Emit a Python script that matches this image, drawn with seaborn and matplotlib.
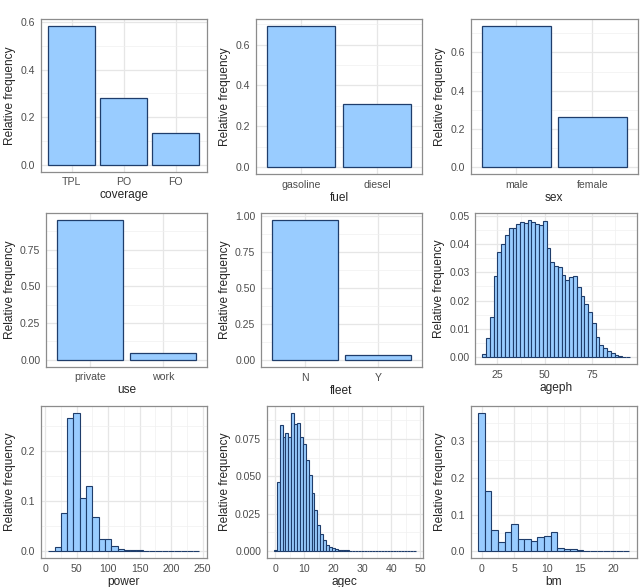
import numpy as np
import pandas as pd
import matplotlib
matplotlib.use("Agg")
import matplotlib.pyplot as plt
import seaborn as sns
from matplotlib.ticker import MultipleLocator, FormatStrFormatter, FixedLocator

# ---- donnees (frequences relatives) ----
coverage_cats = ["TPL", "PO", "FO"]
coverage_freq = [0.582, 0.281, 0.135]

fuel_cats = ["gasoline", "diesel"]
fuel_freq = [0.690, 0.308]

sex_cats = ["male", "female"]
sex_freq = [0.737, 0.264]

use_cats = ["private", "work"]
use_freq = [0.951, 0.048]

fleet_cats = ["N", "Y"]
fleet_freq = [0.967, 0.032]

ageph_centers = [18, 20, 22, 24, 26, 28, 30, 32, 34, 36, 38, 40, 42, 44, 46, 48, 50,
                 52, 54, 56, 58, 60, 62, 64, 66, 68, 70, 72, 74, 76, 78, 80, 82, 84,
                 86, 88, 90, 92, 94]
ageph_freq = [0.0010, 0.0069, 0.0143, 0.0288, 0.0372, 0.0398, 0.0430, 0.0457, 0.0455,
              0.0470, 0.0476, 0.0474, 0.0484, 0.0476, 0.0470, 0.0466, 0.0481, 0.0386,
              0.0335, 0.0322, 0.0317, 0.0290, 0.0273, 0.0283, 0.0288, 0.0247, 0.0215,
              0.0188, 0.0160, 0.0119, 0.0070, 0.0043, 0.0033, 0.0021, 0.0015, 0.0008,
              0.0005, 0.0002, 0.0001]

power_centers = [10, 20, 30, 40, 50, 60, 70, 80, 90, 100, 110, 120, 130, 140, 150, 160,
                 170, 180, 190, 200, 210, 220, 230, 240]
power_freq = [0.0005, 0.008, 0.076, 0.266, 0.277, 0.106, 0.131, 0.069, 0.025, 0.024,
              0.010, 0.0033, 0.002, 0.0027, 0.0013, 0.0007, 0.0004, 0.0003, 0.0002,
              0.0002, 0.0001, 0.0001, 0.0001, 0.0001]

agec_centers = [0, 1, 2, 3, 4, 5, 6, 7, 8, 9, 10, 11, 12, 13, 14, 15, 16, 17, 18, 19, 20,
                21, 22, 23, 24, 25, 26, 27, 28, 29, 30, 31, 32, 33, 34, 35, 36, 37, 38,
                39, 40, 41, 42, 43, 44, 45, 46, 47, 48]
agec_freq = [0.0010, 0.0460, 0.0843, 0.0761, 0.0786, 0.0759, 0.0923, 0.0850, 0.0854,
             0.0765, 0.0717, 0.0608, 0.0510, 0.0388, 0.0277, 0.0177, 0.0115, 0.0073,
             0.0042, 0.0029, 0.0020, 0.0013, 0.0009, 0.0006, 0.0005, 0.0004, 0.0003,
             0.0003, 0.0002, 0.0002, 0.0002, 0.0001, 0.0001, 0.0001, 0.0001, 0.0001,
             0.0001, 0.0001, 0.0001, 0.0001, 0.0001, 0.0001, 0.0001, 0.0001, 0.0001,
             0.0001, 0.0001, 0.0001, 0.0001]

bm_centers = [0, 1, 2, 3, 4, 5, 6, 7, 8, 9, 10, 11, 12, 13, 14, 15, 16, 17, 18, 19, 20,
              21, 22]
bm_freq = [0.378, 0.165, 0.059, 0.024, 0.052, 0.073, 0.033, 0.033, 0.028, 0.038, 0.041,
           0.051, 0.008, 0.007, 0.007, 0.0036, 0.0015, 0.0008, 0.0006, 0.0005, 0.0004,
           0.0003, 0.0003]

# ---- style ----
FILL = "#99CCFF"
EDGE = "#1F3D6B"
sns.set_style("white")
plt.rcParams["font.family"] = ["Liberation Sans", "DejaVu Sans"]

W, H = 643, 587
fig = plt.figure(figsize=(W / 100, H / 100), dpi=100)

# (gauche, droite, haut, bas) en pixels
boxes = [
    (40.7, 207, 19.3, 171.7), (255.7, 422.3, 19.3, 174), (470.7, 638, 19.3, 174),
    (46, 207, 213.3, 366.7), (261, 422, 213.3, 367), (475, 637, 213.3, 364),
    (40.7, 207, 406, 558), (266.7, 423, 406, 558), (470.7, 637, 406, 558),
]


def make_ax(box):
    l, r, t, b = box
    return fig.add_axes([l / W, (H - b) / H, (r - l) / W, (b - t) / H])


def style_ax(ax, xlabel, ystep, yfmt, ymax):
    ax.set_ylim(-0.05 * ymax, 1.05 * ymax)
    ax.yaxis.set_major_locator(MultipleLocator(ystep))
    ax.yaxis.set_minor_locator(MultipleLocator(ystep / 2))
    ax.yaxis.set_major_formatter(FormatStrFormatter(yfmt))
    ax.set_axisbelow(True)
    ax.grid(which="major", color="#E6E6E6", linewidth=0.9)
    ax.grid(which="minor", color="#F0F0F0", linewidth=0.5)
    for s in ax.spines.values():
        s.set_color("#8C8C8C")
        s.set_linewidth(0.9)
    ax.tick_params(which="major", length=2.5, width=0.6, color="#333333",
                   labelsize=7.6, labelcolor="#4D4D4D", pad=1.5)
    ax.tick_params(which="minor", length=0)
    ax.set_xlabel(xlabel, fontsize=8.6, labelpad=1.5)
    ax.set_ylabel("Relative frequency", fontsize=8.6, labelpad=3)


def bar_panel(box, cats, freq, xlabel, ystep, yfmt):
    ax = make_ax(box)
    df = pd.DataFrame({"cat": cats, "freq": freq})
    sns.barplot(data=df, x="cat", y="freq", ax=ax, width=0.9, color=FILL,
                edgecolor=EDGE, linewidth=0.9, saturation=1)
    ax.set_xlim(-0.6, len(cats) - 0.4)
    style_ax(ax, xlabel, ystep, yfmt, max(freq))
    ax.xaxis.set_minor_locator(FixedLocator([]))
    return ax


def hist_panel(box, centers, freq, width, xlabel, xstep, ystep, yfmt):
    ax = make_ax(box)
    df = pd.DataFrame({"x": centers, "w": freq})
    edges = [c - width / 2 for c in centers] + [centers[-1] + width / 2]
    sns.histplot(data=df, x="x", weights="w", bins=edges, ax=ax, color=FILL,
                 edgecolor=EDGE, linewidth=0.8, alpha=1)
    lo, hi = edges[0], edges[-1]
    ax.set_xlim(lo - 0.05 * (hi - lo), hi + 0.05 * (hi - lo))
    style_ax(ax, xlabel, ystep, yfmt, max(freq))
    ax.xaxis.set_major_locator(MultipleLocator(xstep))
    ax.xaxis.set_minor_locator(MultipleLocator(xstep / 2))
    return ax


bar_panel(boxes[0], coverage_cats, coverage_freq, "coverage", 0.2, "%.1f")
bar_panel(boxes[1], fuel_cats, fuel_freq, "fuel", 0.2, "%.1f")
bar_panel(boxes[2], sex_cats, sex_freq, "sex", 0.2, "%.1f")
bar_panel(boxes[3], use_cats, use_freq, "use", 0.25, "%.2f")
bar_panel(boxes[4], fleet_cats, fleet_freq, "fleet", 0.25, "%.2f")
hist_panel(boxes[5], ageph_centers, ageph_freq, 2, "ageph", 25, 0.01, "%.2f")
hist_panel(boxes[6], power_centers, power_freq, 10, "power", 50, 0.1, "%.1f")
hist_panel(boxes[7], agec_centers, agec_freq, 1, "agec", 10, 0.025, "%.3f")
hist_panel(boxes[8], bm_centers, bm_freq, 1, "bm", 5, 0.1, "%.1f")

fig.savefig("out.png", dpi=100)
